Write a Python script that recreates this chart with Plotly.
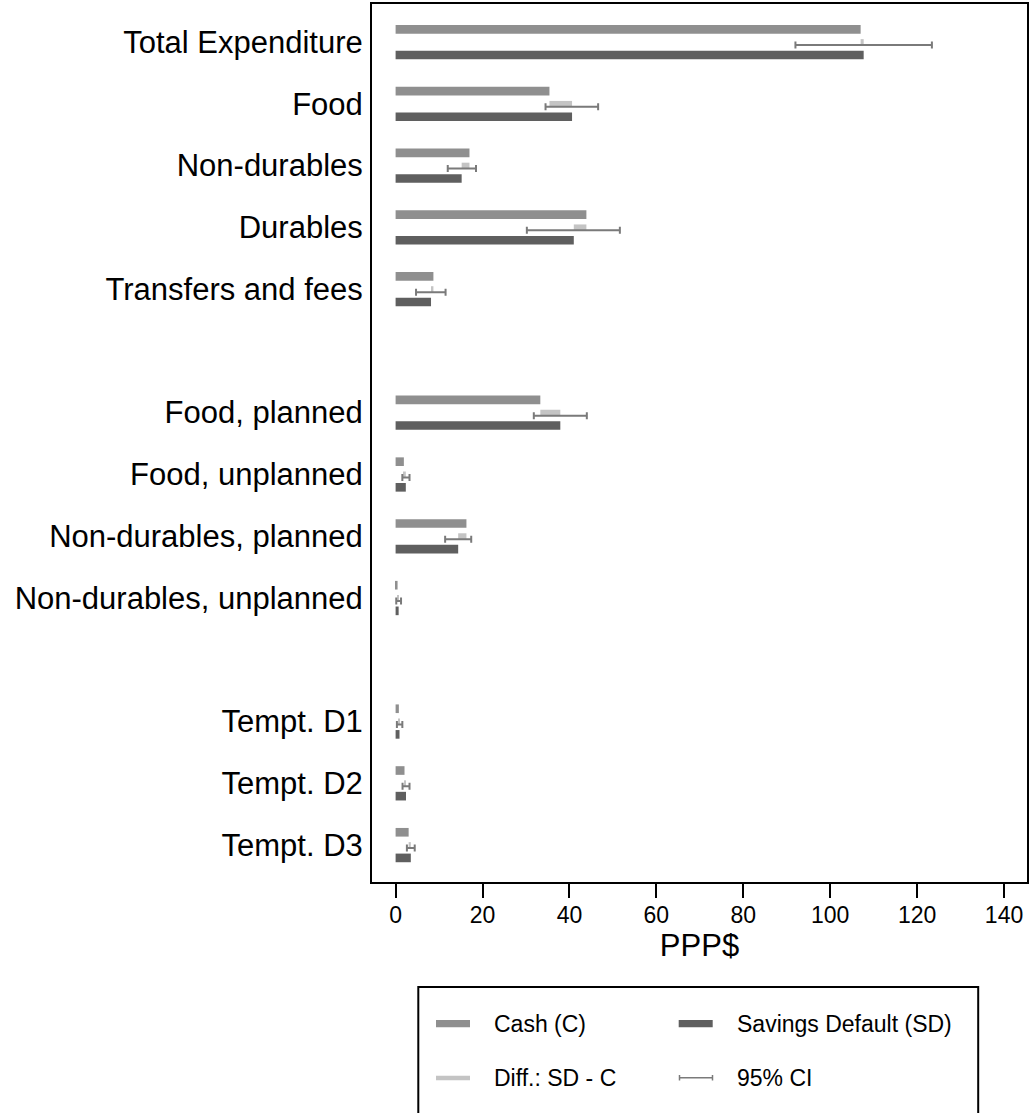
import plotly.graph_objects as go

# ---------------- data ----------------
groups = [
    ["Total Expenditure", "Food", "Non-durables", "Durables", "Transfers and fees"],
    ["Food, planned", "Food, unplanned", "Non-durables, planned", "Non-durables, unplanned"],
    ["Tempt. D1", "Tempt. D2", "Tempt. D3"],
]
cash = [107.0, 35.4, 17.0, 43.9, 8.7, 33.3, 1.9, 16.3, 0.45, 0.75, 2.05, 3.0]
sd = [107.7, 40.6, 15.2, 41.0, 8.15, 37.9, 2.35, 14.4, 0.7, 0.9, 2.4, 3.5]
ci_lo = [92.0, 34.5, 12.0, 30.2, 4.7, 31.8, 1.55, 11.4, 0.15, 0.3, 1.6, 2.6]
ci_hi = [123.4, 46.6, 18.5, 51.6, 11.5, 44.0, 3.2, 17.4, 1.25, 1.55, 3.2, 4.4]
x_ticks = [0, 20, 40, 60, 80, 100, 120, 140]
legend_labels = ["Cash (C)", "Savings Default (SD)", "Diff.: SD - C", "95% CI"]

# ---------------- layout helpers ----------------
labels, pos = [], []
p = 0
for g in groups:
    for lab in g:
        labels.append(lab)
        pos.append(p)
        p += 1
    p += 1  # gap between groups

FONT = "Liberation Sans, Arial, Helvetica, sans-serif"
C_CASH = "#8f8f8f"
C_SD = "#5f5f5f"
C_DIFF = "#c4c4c4"
C_CI = "#7a7a7a"

W, H = 1031, 1113
ML, MR, MT, MB = 372, 4, 4, 231
PW, PH = W - ML - MR, H - MT - MB


def px(x):
    return (x - ML) / PW


def py(y):
    return (H - MB - y) / PH


diff_len = [abs(s - c) for s, c in zip(sd, cash)]
diff_base = [min(s, c) for s, c in zip(sd, cash)]
ci_mid = [(lo + hi) / 2 for lo, hi in zip(ci_lo, ci_hi)]
ci_half = [(hi - lo) / 2 for lo, hi in zip(ci_lo, ci_hi)]

fig = go.Figure()
fig.add_trace(go.Bar(name=legend_labels[0], x=cash, y=pos, base=0, orientation="h",
                     offset=-0.275, width=0.14, marker=dict(color=C_CASH, line=dict(width=0)),
                     showlegend=False))
fig.add_trace(go.Bar(name=legend_labels[2], x=diff_len, y=pos, base=diff_base, orientation="h",
                     offset=-0.046, width=0.092, marker=dict(color=C_DIFF, line=dict(width=0)),
                     showlegend=False))
fig.add_trace(go.Bar(name=legend_labels[1], x=sd, y=pos, base=0, orientation="h",
                     offset=0.14, width=0.14, marker=dict(color=C_SD, line=dict(width=0)),
                     showlegend=False))
fig.add_trace(go.Scatter(name=legend_labels[3], x=ci_mid, y=[q + 0.05 for q in pos], mode="markers",
                         marker=dict(size=1, color="rgba(0,0,0,0)"),
                         error_x=dict(type="data", array=ci_half, symmetric=True,
                                      thickness=2, width=3.5, color=C_CI),
                         showlegend=False))

# ---------------- manual legend ----------------
shapes = []
annotations = []
shapes.append(dict(type="rect", xref="paper", yref="paper",
                   x0=px(418.3), x1=px(978.2), y0=py(987), y1=py(1140),
                   line=dict(color="black", width=2), fillcolor="rgba(0,0,0,0)", layer="above"))
# row 1
shapes.append(dict(type="rect", xref="paper", yref="paper", x0=px(436), x1=px(470),
                   y0=py(1027.3), y1=py(1020), line=dict(width=0), fillcolor=C_CASH))
shapes.append(dict(type="rect", xref="paper", yref="paper", x0=px(678.7), x1=px(712.7),
                   y0=py(1027.3), y1=py(1020), line=dict(width=0), fillcolor=C_SD))
# row 2
shapes.append(dict(type="rect", xref="paper", yref="paper", x0=px(436), x1=px(470),
                   y0=py(1080.2), y1=py(1075.8), line=dict(width=0), fillcolor=C_DIFF))
shapes.append(dict(type="line", xref="paper", yref="paper", x0=px(679), x1=px(713),
                   y0=py(1077.7), y1=py(1077.7), line=dict(color=C_CI, width=1.5)))
for xx in (679.5, 712.5):
    shapes.append(dict(type="line", xref="paper", yref="paper", x0=px(xx), x1=px(xx),
                       y0=py(1075), y1=py(1080.5), line=dict(color=C_CI, width=1.5)))

for txt, xx, yy in [(legend_labels[0], 491.5, 1023.5), (legend_labels[1], 734.5, 1023.5),
                    (legend_labels[2], 491.5, 1077.5), (legend_labels[3], 734.5, 1077.5)]:
    annotations.append(dict(text=txt, xref="paper", yref="paper", x=px(xx), y=py(yy),
                            xanchor="left", yanchor="middle", showarrow=False,
                            font=dict(family=FONT, size=23, color="black")))

fig.update_layout(
    width=W, height=H,
    margin=dict(l=ML, r=MR, t=MT, b=MB, autoexpand=False),
    paper_bgcolor="white", plot_bgcolor="white",
    barmode="overlay",
    font=dict(family=FONT, color="black"),
    shapes=shapes, annotations=annotations,
    showlegend=False,
    xaxis=dict(range=[-5.43, 145.28], tickvals=x_ticks, ticks="outside", ticklen=14,
               tickwidth=2, tickcolor="black", showline=True, linewidth=2, linecolor="black",
               mirror=True, showgrid=False, zeroline=False, ticklabelstandoff=-3,
               tickfont=dict(family=FONT, size=23, color="black"),
               title=dict(text="PPP$", font=dict(family=FONT, size=31, color="black"), standoff=0)),
    yaxis=dict(range=[13.6, -0.615], tickvals=pos, ticktext=labels, ticks="",
               showline=True, linewidth=2, linecolor="black", mirror=True,
               showgrid=False, zeroline=False, ticklabelstandoff=1,
               tickfont=dict(family=FONT, size=31, color="black")),
)

fig.write_html(
    "out.html",
    config={"displayModeBar": False},
    post_script="document.body.style.margin='0px';document.body.style.overflow='hidden';",
)
